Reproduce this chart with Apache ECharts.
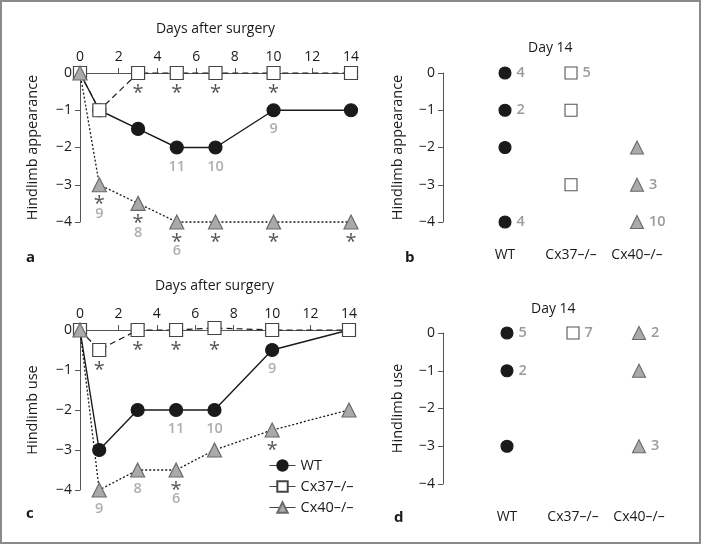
<!DOCTYPE html>
<html><head><meta charset="utf-8">
<script src="https://cdn.jsdelivr.net/npm/echarts@6/dist/echarts.min.js"></script>
<style>
html,body{margin:0;padding:0;background:#fff;}
#c{width:701px;height:544px;box-sizing:border-box;border:2px solid #8a8a8a;}
</style></head>
<body><div id="c"></div>
<script>
// ---------- data ----------
const days = [0, 1, 3, 5, 7, 10, 14];
const xTicks = [0, 2, 4, 6, 8, 10, 12, 14];
const yTicks = [0, -1, -2, -3, -4];
const groups = ['WT', 'Cx37\u2013/\u2013', 'Cx40\u2013/\u2013'];

// panel a: hindlimb appearance
const aWT   = [0, -1, -1.5, -2, -2, -1, -1];
const aCx37 = [0, -1, 0, 0, 0, 0, 0];
const aCx40 = [0, -3, -3.5, -4, -4, -4, -4];
const aStars  = [[3, 0], [5, 0], [7, 0], [10, 0], [1, -3], [3, -3.5], [5, -4], [7, -4], [10, -4], [14, -4]];
const aCounts = [[10, -1, '9'], [5, -2, '11'], [7, -2, '10'], [1, -3, '9'], [3, -3.5, '8'], [5, -4, '6']];

// panel b: day 14 appearance
const bWT   = [0, -1, -2, -4];      const bWTn   = ['4', '2', '', '4'];
const bCx37 = [0, -1, -3];          const bCx37n = ['5', '', ''];
const bCx40 = [-2, -3, -4];         const bCx40n = ['', '3', '10'];

// panel c: hindlimb use
const cWT   = [0, -3, -2, -2, -2, -0.5, 0];
const cCx37 = [0, -0.5, 0, 0, 0.05, 0, 0];
const cCx40 = [0, -4, -3.5, -3.5, -3, -2.5, -2];
const cStars  = [[1, -0.5], [3, 0], [5, 0], [7, 0], [5, -3.5], [10, -2.5]];
const cCounts = [[10, -0.5, '9'], [5, -2, '11'], [7, -2, '10'], [1, -4, '9'], [3, -3.5, '8'], [5, -3.5, '6']];

// panel d: day 14 use
const dWT   = [0, -1, -3];          const dWTn   = ['5', '2', ''];
const dCx37 = [0];                  const dCx37n = ['7'];
const dCx40 = [0, -1, -3];          const dCx40n = ['2', '', '3'];

// ---------- style ----------
const FONT = 'Open Sans';
const GRAY = '#9a9a9a';
const DARK = '#2a2a2a';
const sty = {
  WT:   {symbol: 'circle',   size: 13, fill: '#1a1a1a', border: '#1a1a1a', line: 'solid', lw: 1.4},
  Cx37: {symbol: 'rect',     size: 13, fill: '#ffffff', border: '#444444', line: [6, 4], lw: 1.2},
  Cx40: {symbol: 'triangle', size: 14, fill: '#aaaaaa', border: '#6a6a6a', line: [2, 2], lw: 1.3}
};
const yFmt = v => v < 0 ? '\u2212' + Math.abs(v) : String(v);

const chart = echarts.init(document.getElementById('c'), null, {renderer: 'canvas'});

function lineSeries(name, key, vals, gi) {
  const s = sty[key];
  return {
    type: 'line', name: name, xAxisIndex: gi, yAxisIndex: gi,
    data: days.map((d, i) => [d, vals[i]]),
    symbol: s.symbol, symbolSize: s.size, showAllSymbol: true, clip: false,
    lineStyle: {color: '#1a1a1a', width: s.lw, type: s.line},
    itemStyle: {color: s.fill, borderColor: s.border, borderWidth: 1.2, opacity: 1},
    emphasis: {disabled: true}, animation: false
  };
}
function starSeries(pts, gi) {
  return {
    type: 'scatter', xAxisIndex: gi, yAxisIndex: gi, symbolSize: 1, silent: true,
    itemStyle: {color: 'rgba(0,0,0,0)'}, clip: false, animation: false, z: 5,
    data: pts.map(p => [p[0], p[1]]),
    label: {show: true, position: 'inside', offset: [0, 20], formatter: '*',
      fontFamily: FONT, fontSize: 20, color: DARK}
  };
}
function countSeries(pts, stars, gi) {
  const has = (x, y) => stars.some(s => s[0] === x && s[1] === y);
  return {
    type: 'scatter', xAxisIndex: gi, yAxisIndex: gi, symbolSize: 1, silent: true,
    itemStyle: {color: 'rgba(0,0,0,0)'}, clip: false, animation: false, z: 5,
    data: pts.map(p => ({value: [p[0], p[1]],
      label: {offset: [0, has(p[0], p[1]) ? 29 : 19]}})),
    label: {show: true, position: 'inside', formatter: p => pts[p.dataIndex][2],
      fontFamily: FONT, fontSize: 14.5, fontWeight: 600, color: GRAY}
  };
}
function dotSeries(key, gi, vals, ns) {
  const s = sty[key];
  const ci = ['WT', 'Cx37', 'Cx40'].indexOf(key);
  return {
    type: 'scatter', xAxisIndex: gi, yAxisIndex: gi, clip: false, animation: false,
    symbol: s.symbol, symbolSize: s.size - 1,
    itemStyle: {color: s.fill, borderColor: key === 'Cx37' ? '#555' : s.border, borderWidth: 1.1, opacity: 1},
    emphasis: {disabled: true},
    data: vals.map((v, i) => [ci, v]),
    label: {show: true, position: 'right', distance: 5, formatter: p => ns[p.dataIndex],
      fontFamily: FONT, fontSize: 14.5, fontWeight: 600, color: GRAY}
  };
}

const axisText = {fontFamily: FONT, fontSize: 14, color: '#1a1a1a'};
function timeX(gi) {
  return {
    type: 'value', gridIndex: gi, position: 'top', min: 0, max: 14, interval: 2,
    name: 'Days after surgery', nameLocation: 'middle', nameGap: 37,
    nameTextStyle: {fontFamily: FONT, fontSize: 14, color: '#1a1a1a'},
    axisLine: {onZero: false, lineStyle: {color: '#555', width: 1}},
    axisTick: {show: true, length: 5, lineStyle: {color: '#555'}},
    axisLabel: Object.assign({margin: 9}, axisText),
    splitLine: {show: false}
  };
}
function catX(gi) {
  return {
    type: 'category', gridIndex: gi, data: groups, boundaryGap: true,
    axisLine: {show: false}, axisTick: {show: false},
    axisLabel: Object.assign({margin: 26, interval: 0, hideOverlap: false}, axisText),
    splitLine: {show: false}
  };
}
function valY(gi, name, gap, offset) {
  return {
    type: 'value', gridIndex: gi, min: -4, max: 0, interval: 1, offset: offset || 0,
    name: name, nameLocation: 'middle', nameGap: gap,
    nameTextStyle: {fontFamily: FONT, fontSize: 14.5, color: '#1a1a1a'},
    axisLine: {show: true, onZero: false, lineStyle: {color: '#555', width: 1}},
    axisTick: {show: true, length: 5, lineStyle: {color: '#555'}},
    axisLabel: Object.assign({margin: 8, formatter: yFmt}, axisText),
    splitLine: {show: false}
  };
}

const panelLabel = (t, x, y) => ({text: t, left: x, top: y,
  textStyle: {fontFamily: FONT, fontSize: 15, fontWeight: 'bold', color: '#1a1a1a'}});
const dayTitle = (x, y) => ({text: 'Day 14', left: x, top: y,
  textStyle: {fontFamily: FONT, fontSize: 14, fontWeight: 'normal', color: '#1a1a1a'}});

const option = {
  animation: false,
  title: [
    panelLabel('a', 19, 243), panelLabel('b', 398, 243),
    panelLabel('c', 19, 499), panelLabel('d', 387, 503),
    dayTitle(521, 34), dayTitle(524, 295)
  ],
  legend: {
    data: ['WT', 'Cx37\u2013/\u2013', 'Cx40\u2013/\u2013'], orient: 'vertical',
    left: 262, top: 451, itemWidth: 26, itemHeight: 13, itemGap: 6,
    lineStyle: {type: 'solid', color: '#444', width: 1},
    textStyle: {fontFamily: FONT, fontSize: 14.5, color: '#1a1a1a'}
  },
  grid: [
    {left: 78, top: 71, width: 271, height: 149},
    {left: 470, top: 71, width: 198, height: 149},
    {left: 78, top: 328, width: 269, height: 160},
    {left: 472, top: 331, width: 198, height: 151}
  ],
  xAxis: [timeX(0), catX(1), timeX(2), catX(3)],
  yAxis: [
    valY(0, 'Hindlimb appearance', 40),
    valY(1, 'Hindlimb appearance', 38, 29),
    valY(2, 'Hindlimb use', 40),
    valY(3, 'Hindlimb use', 38, 31)
  ],
  series: [
    lineSeries('WT', 'WT', aWT, 0),
    lineSeries('Cx37\u2013/\u2013', 'Cx37', aCx37, 0),
    lineSeries('Cx40\u2013/\u2013', 'Cx40', aCx40, 0),
    starSeries(aStars, 0), countSeries(aCounts, aStars, 0),
    dotSeries('WT', 1, bWT, bWTn), dotSeries('Cx37', 1, bCx37, bCx37n), dotSeries('Cx40', 1, bCx40, bCx40n),
    lineSeries('WT', 'WT', cWT, 2),
    lineSeries('Cx37\u2013/\u2013', 'Cx37', cCx37, 2),
    lineSeries('Cx40\u2013/\u2013', 'Cx40', cCx40, 2),
    starSeries(cStars, 2), countSeries(cCounts, cStars, 2),
    dotSeries('WT', 3, dWT, dWTn), dotSeries('Cx37', 3, dCx37, dCx37n), dotSeries('Cx40', 3, dCx40, dCx40n)
  ]
};
chart.setOption(option);
</script></body></html>
